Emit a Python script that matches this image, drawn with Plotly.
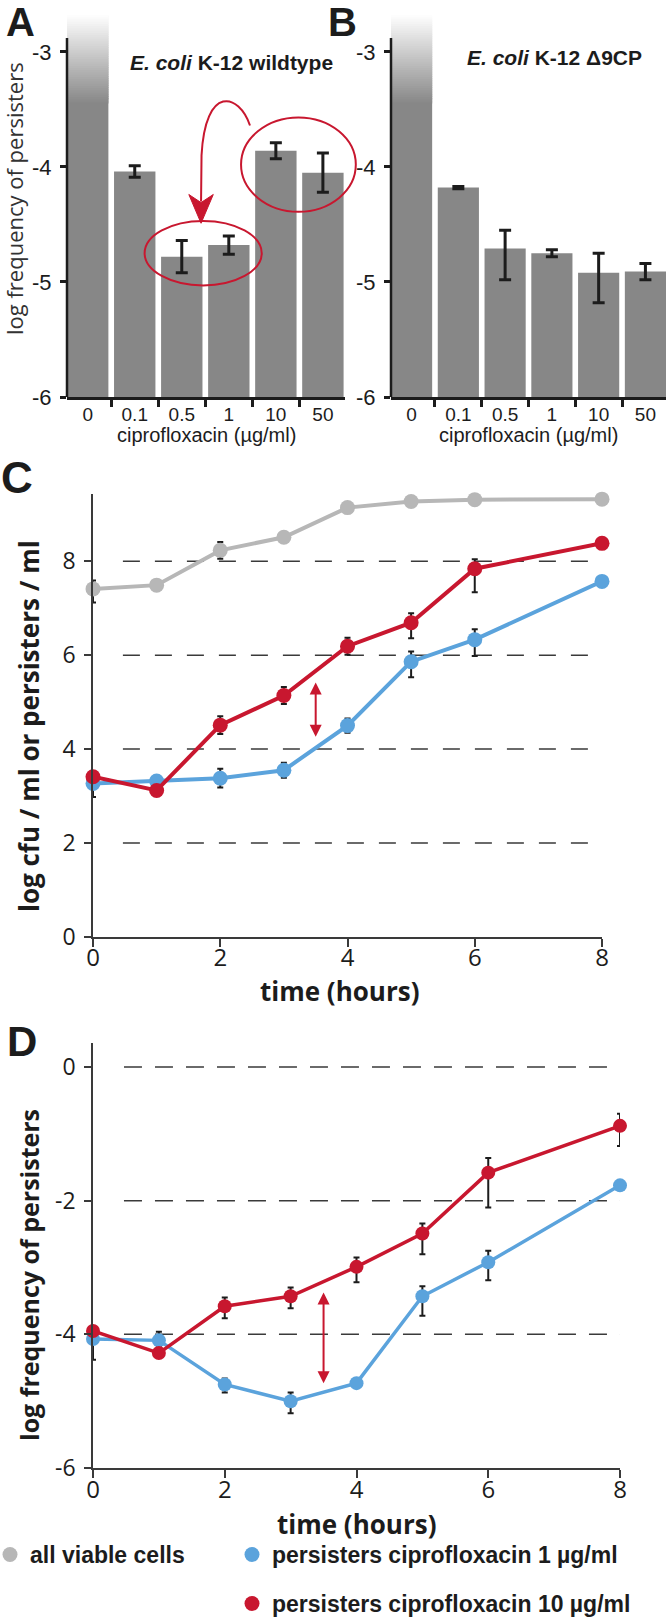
import plotly.graph_objects as go

W, H = 666, 1620

# ---- panels A / B : log frequency of persisters after 5 h ciprofloxacin ----
conc = ["0", "0.1", "0.5", "1", "10", "50"]
wt_freq = [None, -4.04, -4.78, -4.68, -3.86, -4.05]
wt_up = [0, 0.05, 0.14, 0.08, 0.07, 0.17]
wt_dn = [0, 0.05, 0.14, 0.08, 0.07, 0.17]
d9_freq = [None, -4.18, -4.71, -4.75, -4.92, -4.91]
d9_up = [0, 0.01, 0.16, 0.03, 0.17, 0.07]
d9_dn = [0, 0.01, 0.27, 0.03, 0.26, 0.07]
ctrl_solid = -3.45   # untreated control is off scale: drawn solid, then fading out
ctrl_fade = -2.68
bar_ticks = [-6, -5, -4, -3]
bar_axis_top = -2.88

# ---- panel C : log cfu / ml over time ----
hours = [0, 1, 2, 3, 4, 5, 6, 8]
viable = [7.41, 7.49, 8.23, 8.51, 9.14, 9.27, 9.31, 9.32]
viable_up = [0.18, 0.09, 0.18, 0.05, 0, 0, 0, 0]
viable_dn = [0.29, 0.09, 0.18, 0.05, 0, 0, 0, 0]
cfu_1 = [3.27, 3.32, 3.38, 3.55, 4.50, 5.86, 6.33, 7.57]
cfu_1_up = [0.10, 0.05, 0.20, 0.16, 0.15, 0.22, 0.22, 0]
cfu_1_dn = [0.29, 0.05, 0.20, 0.16, 0.15, 0.33, 0.35, 0]
cfu_10 = [3.41, 3.12, 4.51, 5.14, 6.19, 6.69, 7.84, 8.38]
cfu_10_up = [0.05, 0.05, 0.19, 0.18, 0.18, 0.20, 0.20, 0]
cfu_10_dn = [0.05, 0.05, 0.19, 0.18, 0.18, 0.33, 0.50, 0]
c_ticks = [0, 2, 4, 6, 8]
c_gap = [3.5, 5.45, 4.26]   # x, top, bottom of the double arrow

# ---- panel D : log frequency of persisters over time ----
freq_1 = [-4.07, -4.09, -4.75, -5.00, -4.73, -3.43, -2.92, -1.77]
freq_1_up = [0.10, 0.13, 0.09, 0.13, 0, 0.15, 0.17, 0]
freq_1_dn = [0.31, 0.10, 0.12, 0.18, 0, 0.29, 0.27, 0]
freq_10 = [-3.95, -4.28, -3.58, -3.43, -2.99, -2.49, -1.58, -0.88]
freq_10_up = [0.05, 0.06, 0.13, 0.13, 0.14, 0.15, 0.22, 0.18]
freq_10_dn = [0.05, 0.06, 0.18, 0.18, 0.23, 0.31, 0.52, 0.30]
d_ticks = [-6, -4, -2, 0]
d_gap = [3.5, -3.35, -4.73]
time_ticks = [0, 2, 4, 6, 8]

INK = "#1c1c1c"
BAR = "#878787"
GREY = "#b7b7b7"
BLUE = "#5ba3dc"
RED = "#c8172f"

# panel geometry in pixels (left, right), (top, bottom)
P = {
    "A": dict(x=(67, 345), y=(15, 397), xr=(-0.44, 5.47), yr=(-6, ctrl_fade)),
    "B": dict(x=(391, 666), y=(15, 397), xr=(-0.44, 5.44), yr=(-6, ctrl_fade)),
    "C": dict(x=(93, 602), y=(494, 937), xr=(0, 8), yr=(0, 9.43)),
    "D": dict(x=(93, 620), y=(1043, 1468), xr=(0, 8), yr=(-6, 0.36)),
}


def dom(p):
    g = P[p]
    return [g["x"][0] / W, g["x"][1] / W], [1 - g["y"][1] / H, 1 - g["y"][0] / H]


def px(p, v):
    g = P[p]
    return (g["x"][0] + (v - g["xr"][0]) / (g["xr"][1] - g["xr"][0]) * (g["x"][1] - g["x"][0])) / W


def py(p, v):
    g = P[p]
    ypix = g["y"][1] - (v - g["yr"][0]) / (g["yr"][1] - g["yr"][0]) * (g["y"][1] - g["y"][0])
    return 1 - ypix / H


def hy(vals):
    # tick texts with a plain hyphen as minus sign
    return [str(v) for v in vals]


fig = go.Figure()


def bar_panel(freq, up, dn, xa, ya):
    floor = bar_ticks[0]
    fig.add_trace(go.Bar(
        x=conc[1:], y=[v - floor for v in freq[1:]], base=floor, width=0.88,
        marker=dict(color=BAR, line_width=0),
        error_y=dict(type="data", symmetric=False, array=up[1:], arrayminus=dn[1:],
                     color=INK, thickness=3, width=6),
        xaxis=xa, yaxis=ya, showlegend=False, hoverinfo="skip"))
    fig.add_trace(go.Bar(
        x=conc[:1], y=[ctrl_solid - floor + 0.02], base=floor, width=0.88,
        marker=dict(color=BAR, line_width=0),
        xaxis=xa, yaxis=ya, showlegend=False, hoverinfo="skip"))
    # fading top of the off-scale control bar
    n = 40
    step = (ctrl_fade - ctrl_solid) / n
    cols = []
    for k in range(n):
        t = (k + 0.5) / n
        c = int(135 + (255 - 135) * t)
        cols.append(f"rgb({c},{c},{c})")
    fig.add_trace(go.Bar(
        x=conc[:1] * n, y=[step * 2.5] * n, base=[ctrl_solid + k * step for k in range(n)],
        width=0.88, marker=dict(color=cols, line_width=0),
        xaxis=xa, yaxis=ya, showlegend=False, hoverinfo="skip"))


bar_panel(wt_freq, wt_up, wt_dn, "x", "y")
bar_panel(d9_freq, d9_up, d9_dn, "x2", "y2")


def series(y, up, dn, color, xa, ya, size, lw):
    fig.add_trace(go.Scatter(
        x=hours, y=y, mode="lines+markers",
        line=dict(color=color, width=lw), marker=dict(color=color, size=size),
        error_y=dict(type="data", symmetric=False, array=up, arrayminus=dn,
                     color=INK, thickness=2, width=3),
        cliponaxis=False, xaxis=xa, yaxis=ya, showlegend=False, hoverinfo="skip"))


series(viable, viable_up, viable_dn, GREY, "x3", "y3", 15, 4)
series(cfu_1, cfu_1_up, cfu_1_dn, BLUE, "x3", "y3", 15, 4)
series(cfu_10, cfu_10_up, cfu_10_dn, RED, "x3", "y3", 15, 4)
series(freq_1, freq_1_up, freq_1_dn, BLUE, "x4", "y4", 14, 3.5)
series(freq_10, freq_10_up, freq_10_dn, RED, "x4", "y4", 14, 3.5)

# legend-only entries (dots)
for name, color, lg in [("all viable cells", GREY, "legend"),
                        ("persisters ciprofloxacin 1 µg/ml", BLUE, "legend2"),
                        ("persisters ciprofloxacin 10 µg/ml", RED, "legend3")]:
    fig.add_trace(go.Scatter(x=[None], y=[None], mode="markers", name=name,
                             marker=dict(color=color, size=15),
                             xaxis="x4", yaxis="y4", legend=lg, showlegend=True))

layout = dict(width=W, height=H, margin=dict(l=0, r=0, t=0, b=0, autoexpand=False),
              paper_bgcolor="white", plot_bgcolor="white", barmode="overlay",
              font=dict(family="Open Sans", color=INK))

sub = {"A": ("xaxis", "yaxis", "y", "x"), "B": ("xaxis2", "yaxis2", "y2", "x2"),
       "C": ("xaxis3", "yaxis3", "y3", "x3"), "D": ("xaxis4", "yaxis4", "y4", "x4")}

for p in ["A", "B"]:
    xd, yd = dom(p)
    xk, yk, ya, xa = sub[p]
    layout[xk] = dict(domain=xd, anchor=ya, type="category", categoryorder="array",
                      categoryarray=conc, range=list(P[p]["xr"]), tickson="boundaries",
                      showline=True, linecolor=INK, linewidth=2.5, ticks="outside",
                      ticklen=7, tickwidth=2.5, tickcolor=INK, showgrid=False,
                      ticklabelstandoff=-2,
                      tickfont=dict(family="Liberation Sans", size=19, color=INK))
    layout[yk] = dict(domain=yd, anchor=xa, range=list(P[p]["yr"]), tickvals=bar_ticks,
                      ticktext=hy(bar_ticks),
                      showline=False, ticks="outside", ticklen=6, tickwidth=2.5,
                      tickcolor=INK, showgrid=False, zeroline=False, ticklabelstandoff=4,
                      tickfont=dict(family="Liberation Sans", size=22, color=INK))

for p, ticks, xfont, xoff in [("C", c_ticks, 24, -10), ("D", d_ticks, 24, -9)]:
    xd, yd = dom(p)
    xk, yk, ya, xa = sub[p]
    layout[xk] = dict(domain=xd, anchor=ya, range=list(P[p]["xr"]), tickvals=time_ticks,
                      showline=True, linecolor="#3a3a3a", linewidth=1.5, ticks="outside",
                      ticklen=8, tickwidth=1.5, tickcolor="#3a3a3a", showgrid=False,
                      zeroline=False, ticklabelstandoff=xoff,
                      tickfont=dict(family="Open Sans", size=xfont, color=INK))
    layout[yk] = dict(domain=yd, anchor=xa, range=list(P[p]["yr"]), tickvals=ticks,
                      ticktext=hy(ticks),
                      showline=True, linecolor="#3a3a3a", linewidth=1.5, ticks="outside",
                      ticklen=7, tickwidth=1.5, tickcolor="#3a3a3a", showgrid=False,
                      zeroline=False, ticklabelstandoff=4,
                      tickfont=dict(family="Open Sans", size=23, color=INK))

legend_common = dict(font=dict(family="Liberation Sans", size=23, color=INK, weight="bold"),
                     bgcolor="rgba(0,0,0,0)", xanchor="left", yanchor="bottom",
                     orientation="v", itemclick=False, indentation=-10)
layout["legend"] = dict(legend_common, x=0, y=44 / H)
layout["legend2"] = dict(legend_common, x=(247 - 20 + 15) / W, y=44 / H)
layout["legend3"] = dict(legend_common, x=(247 - 20 + 15) / W, y=-5 / H)

shapes = []
# y axis lines of the bar panels stop below the faded control bar
for p in ["A", "B"]:
    xv = P[p]["x"][0] / W
    shapes.append(dict(type="line", xref="paper", yref="paper", x0=xv, x1=xv,
                       y0=py(p, bar_ticks[0]), y1=py(p, bar_axis_top),
                       line=dict(color=INK, width=2.5)))
# dashed reference lines
for p, ticks, dash in [("C", c_ticks, "17px,15px"), ("D", d_ticks, "18px,13px")]:
    for v in ticks[1:]:
        shapes.append(dict(type="line", xref="paper", yref="paper",
                           x0=px(p, 0.47), x1=px(p, 8), y0=py(p, v), y1=py(p, v),
                           line=dict(color="#3a3a3a", width=1.5, dash=dash), layer="below"))
# red ellipses and curved arrow in panel A (in panel-A data units)
for x0, x1, y0, y1 in [(1.21, 3.70, -5.03, -4.47), (3.26, 5.70, -4.39, -3.57)]:
    shapes.append(dict(type="circle", xref="paper", yref="paper",
                       x0=px("A", x0), x1=px("A", x1), y0=py("A", y0), y1=py("A", y1),
                       line=dict(color=RED, width=2)))
curve = [(3.45, -3.64), (3.22, -3.36), (2.50, -3.28), (2.42, -3.90), (2.41, -4.30)]
pts = [(px("A", a), py("A", b)) for a, b in curve]
path = "M {} {} C {} {}, {} {}, {} {} L {} {}".format(
    pts[0][0], pts[0][1], pts[1][0], pts[1][1], pts[2][0], pts[2][1],
    pts[3][0], pts[3][1], pts[4][0], pts[4][1])
shapes.append(dict(type="path", xref="paper", yref="paper", path=path,
                   line=dict(color=RED, width=2)))
head = [(2.41, -4.49), (2.15, -4.24), (2.41, -4.31), (2.67, -4.24)]
hp = [(px("A", a), py("A", b)) for a, b in head]
shapes.append(dict(type="path", xref="paper", yref="paper",
                   path="M {} {} L {} {} L {} {} L {} {} Z".format(*[c for q in hp for c in q]),
                   fillcolor=RED, line=dict(color=RED, width=1)))
layout["shapes"] = shapes

ann = []


def text(x, y, s, size, family="Open Sans", angle=0, color=INK):
    ann.append(dict(x=x / W, y=1 - y / H, xref="paper", yref="paper", text=s,
                    showarrow=False, textangle=angle, xanchor="center", yanchor="middle",
                    font=dict(family=family, size=size, color=color)))


text(21, 22, "<b>A</b>", 40, "Liberation Sans")
text(342, 22, "<b>B</b>", 40, "Liberation Sans")
text(17, 477, "<b>C</b>", 44, "Liberation Sans")
text(22, 1041, "<b>D</b>", 42, "Liberation Sans")
text(231, 62, "<b><i>E. coli</i> K-12 wildtype</b>", 21, "Liberation Sans")
text(554, 57, "<b><i>E. coli</i> K-12 Δ9CP</b>", 21, "Liberation Sans")
text(14, 199, "log frequency of persisters", 22, angle=-90, color="#333333")
text(206, 435, "ciprofloxacin (µg/ml)", 20, "Liberation Sans")
text(528, 435, "ciprofloxacin (µg/ml)", 20, "Liberation Sans")
text(29, 726, "<b>log cfu / ml or persisters / ml</b>", 26, angle=-90)
text(340, 991, "<b>time (hours)</b>", 26)
text(29, 1275, "<b>log frequency of persisters</b>", 25, angle=-90)
text(357, 1524, "<b>time (hours)</b>", 26)

for p, (gx, gy0, gy1) in [("C", c_gap), ("D", d_gap)]:
    xk = sub[p][3]
    yk = sub[p][2]
    ann.append(dict(x=gx, y=gy1, ax=gx, ay=gy0, xref=xk, yref=yk, axref=xk, ayref=yk,
                    text="", showarrow=True, arrowhead=2, arrowsize=1.2, arrowwidth=2,
                    arrowcolor=RED, arrowside="end+start", startarrowhead=2,
                    startarrowsize=1.2))
layout["annotations"] = ann

fig.update_layout(**layout)
# the page's default body margin would shift the figure by 8 px
fig.write_html("out.html", config={"displayModeBar": False},
               post_script="document.body.style.margin='0px';")
